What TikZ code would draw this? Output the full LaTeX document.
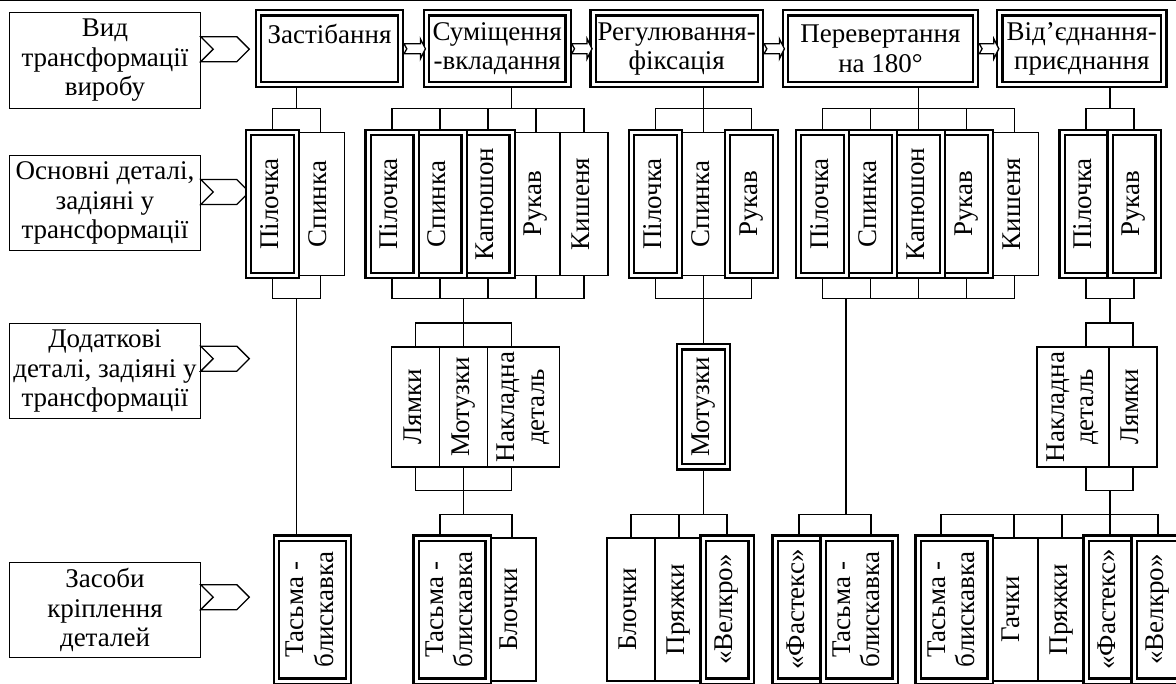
\documentclass[tikz,border=0pt]{standalone}
\usepackage{fontspec}
\setmainfont{Liberation Serif}
\usetikzlibrary{shapes,positioning,backgrounds}

\newcommand{\dfont}{\fontsize{27pt}{29.5pt}\selectfont}
\newcommand{\vtext}[1]{\rotatebox{90}{\begin{tabular}{@{}c@{}}#1\end{tabular}}}
\newcommand{\nextarrow}[2]{%
  \path[tnext] ([xshift=3.7pt,yshift=5pt]#1.east) -- ([xshift=-6pt,yshift=5pt]#2.west)
    -- ([xshift=-6pt,yshift=10pt]#2.west) -- ([xshift=-1pt]#2.west)
    -- ([xshift=-6pt,yshift=-10pt]#2.west) -- ([xshift=-6pt,yshift=-5pt]#2.west)
    -- ([xshift=3.7pt,yshift=-5pt]#1.east) -- ([xshift=6.5pt]#1.east) -- cycle;}

\tikzstyle{lab} = [rectangle, draw, line width=1.3pt, minimum width=191.5pt, minimum height=95.6pt, align=center, inner sep=0pt, outer sep=0pt, font=\dfont]
\tikzstyle{chev} = [signal, signal from=west, signal to=east, draw, line width=1.3pt, minimum width=48.6pt, minimum height=25pt, inner sep=0pt]
\tikzstyle{kind} = [rectangle, draw, line width=2.2pt, double, double distance=3pt, minimum height=71.6pt, align=center, inner sep=0pt, outer sep=0pt, font=\dfont]
\tikzstyle{part} = [rectangle, draw, line width=1.3pt, minimum width=48pt, minimum height=143pt, inner sep=0pt, outer sep=0pt, font=\dfont]
\tikzstyle{mainpart} = [part, line width=2.2pt, double, double distance=3pt]
\tikzstyle{widepart} = [minimum width=72pt]
\tikzstyle{addpart} = [minimum height=120pt]
\tikzstyle{tlink} = [draw, line width=1.3pt]
\tikzstyle{tnext} = [draw, line width=1.3pt, line join=miter, fill=white]

\begin{document}
\begin{tikzpicture}[x=1pt, y=-1pt]
\useasboundingbox (0,0) rectangle (1176,684);
\draw[line width=1.3pt] (0,0.65) -- (1176,0.65);

% row labels =============================
\node[lab] (lkind) at (105,60.5) {Вид\\трансформації\\виробу};
\node[lab] (lmain) at (105,203) {Основні деталі,\\задіяні у\\трансформації};
\node[lab] (lextra) at (105,371) {Додаткові\\деталі, задіяні у\\трансформації};
\node[lab] (lfix) at (105,610) {Засоби\\кріплення\\деталей};
\node[chev] (ckind) at (225,49.2) {};
\node[chev] (cmain) at (225,192) {};
\node[chev] (cextra) at (225,358.7) {};
\node[chev] (cfix) at (225,597.2) {};

% kinds of transformation
\node[kind, minimum width=141.6pt, text depth=29pt] (zast) at (329.5,48.8) {Застібання};
\node[kind, minimum width=141.6pt] (sum) at (497.2,48.8) {Суміщення\\-вкладання};
\node[kind, minimum width=167.3pt] (reg) at (676.7,48.8) {Регулювання-\\фіксація};
\node[kind, minimum width=190.2pt] (per) at (880.5,48.8) {Перевертання\\на 180°};
\node[kind, minimum width=164pt] (vid) at (1081.8,48.8) {Від’єднання-\\приєднання};

\nextarrow{zast}{sum}
\nextarrow{sum}{reg}
\nextarrow{reg}{per}
\nextarrow{per}{vid}

% main parts
\node[part] (zp2) at (320.6,204) {\vtext{Спинка}};
\node[mainpart, left=0pt of zp2] (zp1) {\vtext{Пілочка}};

\node[part] (sp5) at (584,204) {\vtext{Кишеня}};
\node[part, left=0pt of sp5] (sp4) {\vtext{Рукав}};
\node[mainpart, left=0pt of sp4] (sp3) {\vtext{Капюшон}};
\node[mainpart, left=0pt of sp3] (sp2) {\vtext{Спинка}};
\node[mainpart, left=0pt of sp2] (sp1) {\vtext{Пілочка}};

\node[part] (rp2) at (703.3,204) {\vtext{Спинка}};
\node[mainpart, left=0pt of rp2] (rp1) {\vtext{Пілочка}};
\node[mainpart, right=0pt of rp2] (rp3) {\vtext{Рукав}};

\node[part] (pp5) at (1014.7,204) {\vtext{Кишеня}};
\node[mainpart, left=0pt of pp5] (pp4) {\vtext{Рукав}};
\node[mainpart, left=0pt of pp4] (pp3) {\vtext{Капюшон}};
\node[mainpart, left=0pt of pp3] (pp2) {\vtext{Спинка}};
\node[mainpart, left=0pt of pp2] (pp1) {\vtext{Пілочка}};

\node[mainpart] (vp1) at (1086,204) {\vtext{Пілочка}};
\node[mainpart, right=0pt of vp1] (vp2) {\vtext{Рукав}};

% additional parts
\node[part, addpart] (sa1) at (415.8,407) {\vtext{Лямки}};
\node[part, addpart, right=0pt of sa1] (sa2) {\vtext{Мотузки}};
\node[part, addpart, widepart, right=0pt of sa2] (sa3) {\vtext{Накладна\\деталь}};

\node[mainpart, addpart] (ra1) at (703.3,407) {\vtext{Мотузки}};

\node[part, addpart, widepart] (va1) at (1073,407) {\vtext{Накладна\\деталь}};
\node[part, addpart, right=0pt of va1] (va2) {\vtext{Лямки}};

% fasteners
\node[mainpart, widepart] (zf1) at (312.5,609.5) {\vtext{Тасьма -\\блискавка}};

\node[part] (sf2) at (512,609.5) {\vtext{Блочки}};
\node[mainpart, widepart, left=0pt of sf2] (sf1) {\vtext{Тасьма -\\блискавка}};

\node[part] (rf1) at (631,609.5) {\vtext{Блочки}};
\node[part, right=0pt of rf1] (rf2) {\vtext{Пряжки}};
\node[mainpart, right=0pt of rf2] (rf3) {\vtext{«Велкро»}};

\node[mainpart] (pf1) at (799,609.5) {\vtext{«Фастекс»}};
\node[mainpart, widepart, right=0pt of pf1] (pf2) {\vtext{Тасьма -\\блискавка}};

\node[part] (vf2) at (1014,609.5) {\vtext{Гачки}};
\node[part, right=0pt of vf2] (vf3) {\vtext{Пряжки}};
\node[mainpart, right=0pt of vf3] (vf4) {\vtext{«Фастекс»}};
\node[mainpart, right=0pt of vf4] (vf5) {\vtext{«Велкро»}};
\node[mainpart, widepart, left=0pt of vf2] (vf1) {\vtext{Тасьма -\\блискавка}};

% edges
\begin{scope}[on background layer]
% Застібання
\coordinate (zt) at (296.7,108.3);
\coordinate (zb) at (296.7,298.3);
\path[tlink] (zast.south -| zt) -- (zt);
\path[tlink] (zp1.north) |- (zt) -| (zp2.north);
\path[tlink] (zp1.south) |- (zb) -| (zp2.south);
\path[tlink] (zb) -- (zf1.north -| zb);

% Суміщення
\coordinate (st) at (511.7,108.3);
\coordinate (sb) at (463.8,298.3);
\coordinate (sat) at (463.8,323);
\coordinate (sab) at (463.8,490.7);
\coordinate (sft) at (463.8,514.5);
\path[tlink] (sum.south -| st) -- (st);
\path[tlink] (sp1.north) |- (st) -| (sp5.north);
\path[tlink] (sp1.south) |- (sb) -| (sp5.south);
\foreach \n in {sp2,sp3,sp4} {
  \path[tlink] (\n.north) -- (\n.north |- st);
  \path[tlink] (\n.south) -- (\n.south |- sb);
}
\path[tlink] (sb) -- (sat);
\path[tlink] (sa1.north) |- (sat) -| ([xshift=-12pt]sa3.north);
\path[tlink] (sa2.north) -- (sat);
\path[tlink] (sa1.south) |- (sab) -| ([xshift=-12pt]sa3.south);
\path[tlink] (sa2.south) -- (sab);
\path[tlink] (sab) -- (sft);
\path[tlink] ([xshift=-12pt]sf1.north) |- (sft) -| (sf2.north);

% Регулювання
\coordinate (rt) at (703.3,108.3);
\coordinate (rb) at (703.3,298.3);
\coordinate (rft) at (703.3,514.5);
\path[tlink] (reg.south -| rt) -- (rt);
\path[tlink] (rp1.north) |- (rt) -| (rp3.north);
\path[tlink] (rp2.north) -- (rt);
\path[tlink] (rp1.south) |- (rb) -| (rp3.south);
\path[tlink] (rp2.south) -- (rb);
\path[tlink] (rb) -- (ra1.north);
\path[tlink] (ra1.south) -- (rft);
\path[tlink] (rf1.north) |- (rft) -| (rf3.north);
\path[tlink] (rf2.north) -- (rf2.north |- rft);

% Перевертання
\coordinate (pt) at (918.7,108.3);
\coordinate (pb) at (846,298.3);
\coordinate (pft) at (846,514.5);
\path[tlink] (per.south -| pt) -- (pt);
\path[tlink] (pp1.north) |- (pt) -| (pp5.north);
\path[tlink] (pp1.south) |- (pb) -| (pp5.south);
\foreach \n in {pp2,pp3,pp4} {
  \path[tlink] (\n.north) -- (\n.north |- pt);
  \path[tlink] (\n.south) -- (\n.south |- pb);
}
\path[tlink] (pb) -- (pft);
\path[tlink] (pf1.north) |- (pft) -| ([xshift=12pt]pf2.north);

% Від'єднання
\coordinate (vt) at (1110,108.3);
\coordinate (vb) at (1110,298.3);
\coordinate (vat) at (1110,323);
\coordinate (vab) at (1110,490.7);
\coordinate (vft) at (1110,514.5);
\path[tlink] (vid.south -| vt) -- (vt);
\path[tlink] (vp1.north) |- (vt) -| (vp2.north);
\path[tlink] (vp1.south) |- (vb) -| (vp2.south);
\path[tlink] (vb) -- (vat);
\path[tlink] ([xshift=13pt]va1.north) |- (vat) -| (va2.north);
\path[tlink] ([xshift=13pt]va1.south) |- (vab) -| (va2.south);
\path[tlink] (vab) -- (vft);
\path[tlink] ([xshift=-13pt]vf1.north) |- (vft) -| (vf5.north);
\foreach \n in {vf2,vf3,vf4}
  \path[tlink] (\n.north) -- (\n.north |- vft);
\end{scope}

\end{tikzpicture}
\end{document}
